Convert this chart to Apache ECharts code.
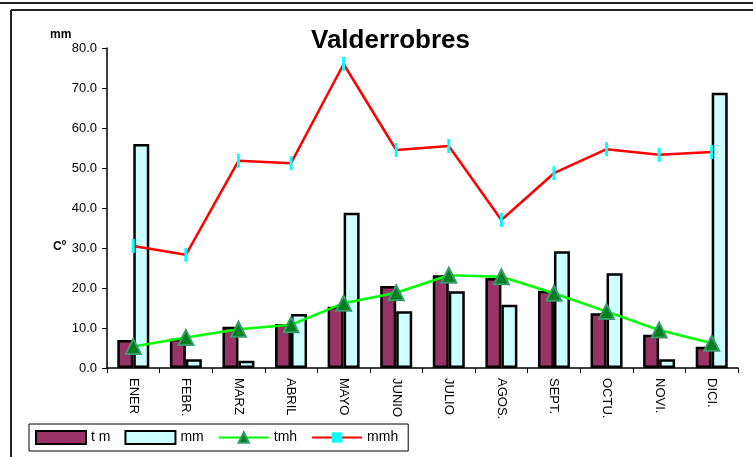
<!DOCTYPE html>
<html>
<head>
<meta charset="utf-8">
<script src="https://cdn.jsdelivr.net/npm/echarts@6/dist/echarts.min.js"></script>
<style>
  html, body { margin: 0; padding: 0; background: #ffffff; }
  #chart { width: 753px; height: 457px; }
</style>
</head>
<body>
<div id="chart"></div>
<script>
// meses
const months = ["ENER", "FEBR.", "MARZ", "ABRIL", "MAYO", "JUNIO", "JULIO", "AGOS.", "SEPT.", "OCTU.", "NOVI.", "DICI."];
// temperatura media (barras)
const tm = [7.0, 7.3, 10.3, 11.0, 15.3, 20.5, 23.2, 22.5, 19.3, 13.7, 8.3, 5.3];
// precipitacion (barras)
const mm = [56.0, 2.2, 1.8, 13.5, 38.8, 14.2, 19.2, 15.8, 29.2, 23.7, 2.2, 68.8];
// temperatura (linea)
const tmh = [5.4, 7.6, 9.7, 10.8, 16.2, 18.8, 23.2, 22.8, 18.7, 14.1, 9.5, 6.2];
// precipitacion (linea)
const mmh = [30.5, 28.3, 51.8, 51.2, 76.0, 54.5, 55.5, 37.0, 48.7, 54.7, 53.3, 54.0];

let myChart = echarts.init(document.getElementById("chart"));
const font = "Liberation Sans, Arial, sans-serif";

let options = {
  animation: false,
  textStyle: { fontFamily: font },
  title: {
    text: "Valderrobres",
    left: 311,
    top: 28,
    padding: 0,
    textStyle: { fontSize: 26, fontWeight: "bold", color: "#000", fontFamily: font },
  },
  grid: { left: 107, right: 15, top: 48, bottom: 89 },
  legend: {
    left: 29,
    top: 424,
    padding: [6, 10, 6, 6],
    itemGap: 14,
    itemWidth: 50,
    itemHeight: 13,
    borderColor: "#000",
    borderWidth: 1,
    borderRadius: 0,
    textStyle: { fontSize: 14, color: "#000", fontFamily: font },
    data: [
      { name: "t m", icon: "rect" },
      { name: "mm", icon: "rect" },
      { name: "tmh" },
      { name: "mmh" },
    ],
  },
  xAxis: {
    type: "category",
    data: months,
    boundaryGap: true,
    axisLine: { lineStyle: { color: "#000", width: 1.5 } },
    axisTick: { show: true, length: 5, lineStyle: { color: "#000" } },
    axisLabel: { rotate: -90, margin: 10, fontSize: 13, color: "#000", interval: 0 },
  },
  yAxis: {
    type: "value",
    min: 0,
    max: 80,
    interval: 10,
    splitLine: { show: false },
    axisLine: { show: true, lineStyle: { color: "#000", width: 1.5 } },
    axisTick: { show: true, length: 5, lineStyle: { color: "#000" } },
    axisLabel: {
      margin: 10,
      fontSize: 13,
      color: "#000",
      formatter: (v) => v.toFixed(1),
    },
  },
  graphic: [
    { type: "line", shape: { x1: 0, y1: 3, x2: 753, y2: 3 }, style: { stroke: "#222", lineWidth: 2 } },
    { type: "line", shape: { x1: 11, y1: 10, x2: 753, y2: 10 }, style: { stroke: "#222", lineWidth: 2 } },
    { type: "line", shape: { x1: 11, y1: 10, x2: 11, y2: 457 }, style: { stroke: "#222", lineWidth: 2 } },
    { type: "text", left: 50, top: 29, style: { text: "mm", font: "bold 12px " + font, fill: "#000" } },
    { type: "text", left: 53, top: 241, style: { text: "Cº", font: "bold 12px " + font, fill: "#000" } },
  ],
  series: [
    {
      name: "t m",
      type: "bar",
      data: tm,
      barWidth: 16,
      barGap: "0%",
      itemStyle: { color: "#993366", borderColor: "#000", borderWidth: 2.5 },
    },
    {
      name: "mm",
      type: "bar",
      data: mm,
      barWidth: 16,
      barGap: "0%",
      itemStyle: { color: "#CCFFFF", borderColor: "#000", borderWidth: 2.5 },
    },
    {
      name: "tmh",
      type: "line",
      data: tmh,
      symbol: "triangle",
      symbolSize: 15,
      lineStyle: { color: "#00FF00", width: 2.5 },
      itemStyle: { color: "#007F1F", borderColor: "#3A9A6A", borderWidth: 2 },
      z: 5,
    },
    {
      name: "mmh",
      type: "line",
      data: mmh,
      symbol: "rect",
      symbolSize: [3, 14],
      lineStyle: { color: "#FF0000", width: 2.5 },
      itemStyle: { color: "#00FFFF" },
      z: 4,
    },
  ],
};
myChart.setOption(options);
</script>
</body>
</html>
